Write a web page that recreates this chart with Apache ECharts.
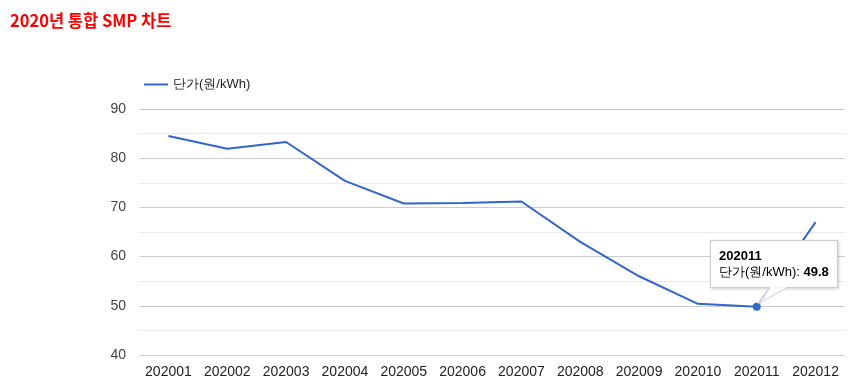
<!DOCTYPE html>
<html>
<head>
<meta charset="utf-8">
<script src="https://cdn.jsdelivr.net/npm/echarts@6/dist/echarts.min.js"></script>
<style>
    html, body { margin: 0; padding: 0; background: #fff; }
    #smpChart { width: 865px; height: 391px; }
</style>
</head>
<body>
<div id="smpChart"></div>
<script>
    // 2020년 월별 통합 SMP
    const months = ['202001', '202002', '202003', '202004', '202005', '202006',
        '202007', '202008', '202009', '202010', '202011', '202012']
    const prices = [84.5, 81.9, 83.3, 75.4, 70.8, 70.9, 71.2, 63.0, 56.0, 50.4, 49.8, 67.0]
    const seriesName = '단가(원/kWh)'
    const yTicks = { min: 40, max: 90, interval: 10 }
    const hoverIndex = 10

    const baseFont = '"Liberation Sans", Arial, sans-serif'

    // 툴팁 꼬리 (말풍선)
    const tailSvg = '<svg style="position:absolute;left:32px;top:38px;overflow:visible;" width="45" height="22">' +
        '<polygon points="19,0 37,0 7,18" fill="rgba(255,255,255,0.85)"/>' +
        '<polyline points="19,1 7,18 37,1" fill="none" stroke="#d0d0d0" stroke-width="1"/>' +
        '</svg>'

    const smpCharts = echarts.init(document.getElementById('smpChart'))
    const option = {
        animation: false,
        title: {
            text: '2020년 통합 SMP 차트',
            left: 10,
            top: 12,
            padding: 0,
            textStyle: {
                color: '#ff0000',
                fontSize: 16.5,
                fontWeight: 'bold',
                fontFamily: '"Noto Sans CJK KR", sans-serif'
            }
        },
        legend: {
            data: [seriesName],
            left: 139,
            top: 73,
            icon: 'rect',
            itemWidth: 24,
            itemHeight: 2,
            itemGap: 10,
            textStyle: {
                color: '#222',
                fontSize: 13,
                fontFamily: baseFont
            }
        },
        tooltip: {
            trigger: 'item',
            triggerOn: 'none',
            alwaysShowContent: true,
            position: [710, 240],
            backgroundColor: '#fff',
            borderColor: '#ccc',
            borderWidth: 1,
            padding: [7, 8],
            extraCssText: 'box-shadow: 1px 1px 3px rgba(0,0,0,0.2); border-radius: 0; overflow: visible;',
            textStyle: { color: '#000', fontSize: 13, fontFamily: baseFont },
            formatter: function (p) {
                return '<div style="line-height:16px;position:relative;">' +
                    '<b>' + p.name + '</b><br>' + p.seriesName + ': <b>' + p.value + '</b>' +
                    tailSvg + '</div>'
            }
        },
        grid: {
            left: 139,
            right: 20,
            top: 109,
            bottom: 36
        },
        xAxis: {
            type: 'category',
            data: months,
            boundaryGap: true,
            axisLine: { show: false },
            axisTick: { show: false },
            axisLabel: {
                interval: 0,
                color: '#222',
                fontSize: 14,
                margin: 10,
                fontFamily: baseFont
            }
        },
        yAxis: {
            type: 'value',
            min: yTicks.min,
            max: yTicks.max,
            interval: yTicks.interval,
            minorTick: { show: false, splitNumber: 2 },
            axisLabel: {
                color: '#444',
                fontSize: 14,
                margin: 13,
                fontFamily: baseFont
            },
            splitLine: { lineStyle: { color: '#cccccc', width: 1 } },
            minorSplitLine: { show: true, lineStyle: { color: '#ebebeb', width: 1 } }
        },
        series: [
            {
                name: seriesName,
                type: 'line',
                symbol: 'none',
                lineStyle: { color: '#3366cc', width: 2 },
                itemStyle: { color: '#3366cc' },
                data: prices.map(function (v, i) {
                    if (i === hoverIndex) {
                        return { value: v, symbol: 'circle', symbolSize: 8 }
                    }
                    return v
                })
            }
        ]
    }
    smpCharts.setOption(option)
    smpCharts.dispatchAction({ type: 'showTip', seriesIndex: 0, dataIndex: hoverIndex })
</script>
</body>
</html>
